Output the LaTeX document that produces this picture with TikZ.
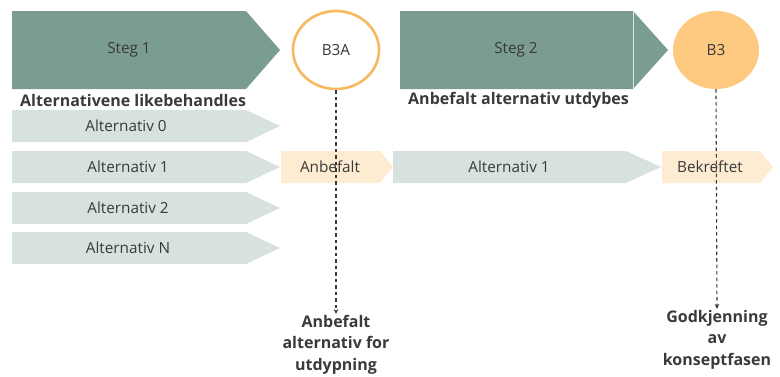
\documentclass[tikz,border=0pt]{standalone}
\usepackage{fontspec}
\setmainfont{Open Sans}
\usetikzlibrary{arrows.meta,shapes.geometric}
\definecolor{stegfill}{HTML}{7A9C93}
\definecolor{altfill}{HTML}{D7E1DE}
\definecolor{okfill}{HTML}{FDEBD2}
\definecolor{ringcol}{HTML}{F8B95E}
\definecolor{dotfill}{HTML}{FEC981}
\definecolor{txt}{HTML}{3A3A3A}
\tikzset{
  x=1pt, y=-1pt,
  lbl/.style={font=\fontsize{15.3}{17}\selectfont, text=txt, inner sep=0pt},
  head/.style={font=\fontsize{16}{18}\selectfont\bfseries, text=txt, inner sep=0pt, anchor=west},
  note/.style={font=\fontsize{16}{21.5}\selectfont\bfseries, text=txt, inner sep=1pt, align=center, anchor=north},
  gate/.style={ellipse, minimum width=86pt, minimum height=78pt, inner sep=0pt, font=\fontsize{15.3}{17}\selectfont, text=txt},
  link/.style={dash pattern=on 3.5pt off 3pt, line width=1.1pt, draw=txt, -{Stealth[length=5pt,width=4.5pt]}},
}
\newcommand{\chevron}[6]{% fill, x0, y0, body end, tip, y1
  \fill[#1] (#2,#3) -- (#4,#3) -- (#5,{(#3+#6)/2}) -- (#4,#6) -- (#2,#6) -- cycle;}
\begin{document}
\begin{tikzpicture}
\useasboundingbox (0,0) rectangle (780,376);
% step bands
\chevron{stegfill}{12}{11}{246}{280}{89}
\chevron{stegfill}{400}{11}{633}{668}{89}
\draw[white!70!stegfill, line width=0.6pt] (633,11) -- (633,89);
\node[lbl] (s1) at (129,50) {Steg 1};
\node[lbl] (s2) at (516,50) {Steg 2};
% decision gates
\node[gate, draw=ringcol, line width=2.6pt, fill=white] (b3a) at (336,50) {B3A};
\node[gate, fill=dotfill] (b3) at (716,50) {B3};
% headings
\node[head] (h1) at (20,100) {Alternativene likebehandles};
\node[head] (h2) at (408,100) {Anbefalt alternativ utdybes};
% alternatives
\chevron{altfill}{12}{110}{246}{280}{142}
\chevron{altfill}{12}{151}{246}{280}{183}
\chevron{altfill}{12}{192}{246}{280}{224}
\chevron{altfill}{12}{232}{246}{280}{264}
\node[lbl] (a0) at (126,126) {Alternativ 0};
\node[lbl] (a1) at (128,167) {Alternativ 1};
\node[lbl] (a2) at (128,208) {Alternativ 2};
\node[lbl] (an) at (128,248) {Alternativ N};
\chevron{okfill}{281}{151}{380}{393}{183}
\node[lbl] (anb) at (330,167) {Anbefalt};
\chevron{altfill}{393}{151}{626}{661}{183}
\node[lbl] (a1b) at (509,167) {Alternativ 1};
\chevron{okfill}{662}{151}{760}{773}{183}
\node[lbl] (bek) at (710,167) {Bekreftet};
% outcomes
\node[note] (n1) at (336,314) {Anbefalt\\alternativ for\\utdypning};
\node[note] (n2) at (717,309) {Godkjenning\\av\\konseptfasen};
\draw[link] (b3a.south) -- (n1.north);
\draw[link] (b3.south) -- (n2.north);
\end{tikzpicture}
\end{document}
